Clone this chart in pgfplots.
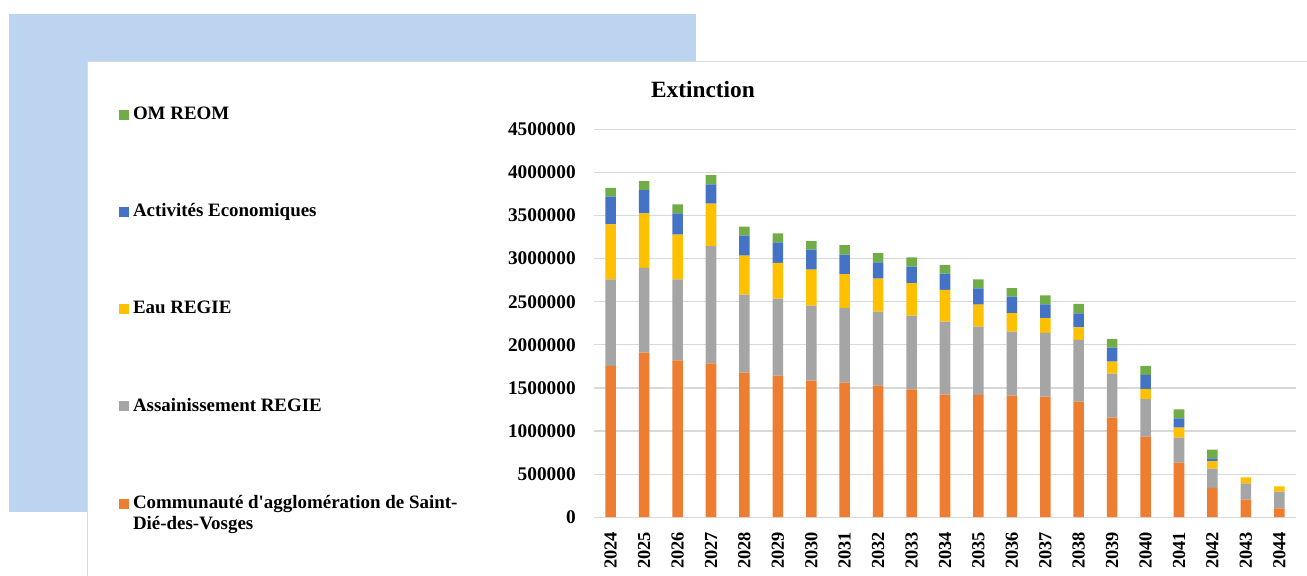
\documentclass[border=0pt]{standalone}
\usepackage{fontspec}
\setmainfont{Liberation Serif}
\usepackage{pgfplots}
\pgfplotsset{compat=1.18}
\usepackage{pgfplotstable}
\definecolor{cOr}{HTML}{ED7D31}
\definecolor{cGy}{HTML}{A5A5A5}
\definecolor{cYe}{HTML}{FFC000}
\definecolor{cBl}{HTML}{4472C4}
\definecolor{cGr}{HTML}{70AD47}
\definecolor{cBg}{RGB}{189,212,240}
\definecolor{cGrid}{HTML}{D9D9D9}

\pgfplotstableread{
x year ca ass eau act om
0 2024 1757000 1003000 638000 320000 104000
1 2025 1908000 986000 632000 270000 104000
2 2026 1820000 940000 517000 249000 104000
3 2027 1785000 1361000 491000 225000 108000
4 2028 1676000 905000 453000 232000 104000
5 2029 1642000 893000 417000 237000 104000
6 2030 1584000 870000 417000 232000 101000
7 2031 1560000 870000 391000 224000 113000
8 2032 1526000 858000 383000 190000 108000
9 2033 1484000 854000 379000 189000 109000
10 2034 1421000 847000 368000 189000 101000
11 2035 1418000 792000 255000 190000 105000
12 2036 1410000 742000 217000 189000 101000
13 2037 1398000 742000 171000 159000 104000
14 2038 1340000 716000 147000 162000 109000
15 2039 1154000 511000 139000 162000 101000
16 2040 934000 437000 116000 163000 107000
17 2041 632000 290000 116000 109000 105000
18 2042 339000 224000 89000 31000 100000
19 2043 203000 190000 70000 0 0
20 2044 103000 193000 62000 0 0
}\data

\begin{document}
\begin{tikzpicture}
\path[use as bounding box] (0,0) rectangle (980.25pt,-431.25pt);
\fill[cBg] (6.75pt,-10.5pt) rectangle (522pt,-384pt);
\filldraw[fill=white, draw=cGrid, line width=0.75pt] (65.25pt,-45.75pt) rectangle (1000pt,-450pt);
\node[anchor=base, font=\bfseries\fontsize{17.5}{20}\selectfont, inner sep=0pt] at (527.25pt,-73pt) {Extinction};
\begin{axis}[
  at={(445.5pt,-97pt)}, anchor=north west,
  scale only axis, width=526.5pt, height=290.9pt,
  ybar stacked, bar width=7.9pt,
  xmin=-0.5, xmax=20.5, ymin=0, ymax=4500000,
  xtick={0,1,2,3,4,5,6,7,8,9,10,11,12,13,14,15,16,17,18,19,20},
  xticklabels={2024,2025,2026,2027,2028,2029,2030,2031,2032,2033,2034,2035,2036,2037,2038,2039,2040,2041,2042,2043,2044},
  ytick={0,500000,1000000,1500000,2000000,2500000,3000000,3500000,4000000,4500000},
  yticklabels={0,500000,1000000,1500000,2000000,2500000,3000000,3500000,4000000,4500000},
  scaled y ticks=false,
  ymajorgrids, major grid style={cGrid, line width=0.9pt},
  axis line style={draw=none}, major tick length=0pt, tick style={draw=none},
  yticklabel style={font=\bfseries\fontsize{14.5}{16}\selectfont, anchor=east, inner sep=0pt, xshift=-13.5pt},
  xticklabel style={font=\bfseries\fontsize{13.8}{16}\selectfont, rotate=90, anchor=east, inner sep=0pt, inner xsep=10.9pt},
  legend cell align=left,
  reverse legend,
  legend image code/.code={\fill[#1] (0pt,-3.75pt) rectangle (7.5pt,3.75pt);},
  legend style={at={(-0.6766,1.060)}, anchor=north west, draw=none, fill=none,
    inner sep=0pt, outer sep=0pt, row sep=59.9pt, column sep=3pt,
    font=\bfseries\fontsize{14.2}{16}\selectfont,
    nodes={inner sep=0pt, text height=10pt, text depth=3pt}},
]
\addplot[fill=cOr, draw=none] table[x=x,y=ca]{\data};
\addlegendentry{\parbox[t]{260pt}{Communauté d\textquotesingle agglomération de Saint-\\Dié-des-Vosges}}
\addplot[fill=cGy, draw=none] table[x=x,y=ass]{\data};
\addlegendentry{Assainissement REGIE}
\addplot[fill=cYe, draw=none] table[x=x,y=eau]{\data};
\addlegendentry{Eau REGIE}
\addplot[fill=cBl, draw=none] table[x=x,y=act]{\data};
\addlegendentry{Activités Economiques}
\addplot[fill=cGr, draw=none] table[x=x,y=om]{\data};
\addlegendentry{OM REOM}
\end{axis}
\end{tikzpicture}
\end{document}
